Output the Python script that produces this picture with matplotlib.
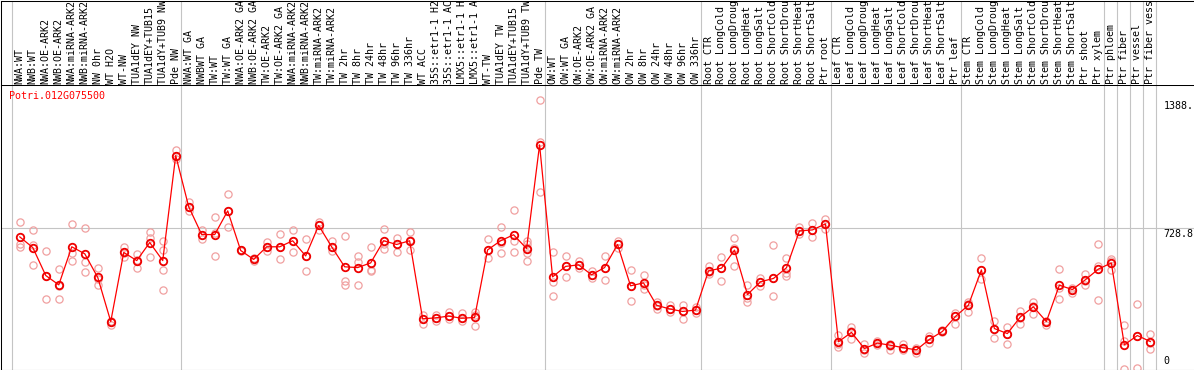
import matplotlib
matplotlib.use('Agg')
import matplotlib.pyplot as plt
import numpy as np

gene = 'Potri.012G075500'

samples = ['NWA:WT', 'NWB:WT', 'NWA:OE-ARK2', 'NWB:OE-ARK2', 'NWA:miRNA-ARK2', 'NWB:miRNA-ARK2',
           'NW 0hr', 'WT H2O', 'WT-NW', 'TUA1dEY NW', 'TUA1dEY+TUB15', 'TUA1dY+TUB9 NW', 'Pde NW',
           'NWA:WT GA', 'NWBWT GA', 'TW:WT', 'TW:WT GA', 'NWA:OE-ARK2 GA', 'NWB:OE-ARK2 GA',
           'TW:OE-ARK2', 'TW:OE-ARK2 GA', 'NWA:miRNA-ARK2', 'NWB:miRNA-ARK2', 'TW:miRNA-ARK2',
           'TW:miRNA-ARK2', 'TW 2hr', 'TW 8hr', 'TW 24hr', 'TW 48hr', 'TW 96hr', 'TW 336hr',
           'WT ACC', '35S::etr1-1 H2', '35S::etr1-1 AC', 'LMX5::etr1-1 H', 'LMX5::etr1-1 A',
           'WT-TW', 'TUA1dEY TW', 'TUA1dEY+TUB15', 'TUA1dY+TUB9 TW', 'Pde TW',
           'OW:WT', 'OW:WT GA', 'OW:OE-ARK2', 'OW:OE-ARK2 GA', 'OW:miRNA-ARK2', 'OW:miRNA-ARK2',
           'OW 2hr', 'OW 8hr', 'OW 24hr', 'OW 48hr', 'OW 96hr', 'OW 336hr',
           'Root CTR', 'Root LongCold', 'Root LongDroug', 'Root LongHeat', 'Root LongSalt',
           'Root ShortCold', 'Root ShortDrou', 'Root ShortHeat', 'Root ShortSalt', 'Ptr root',
           'Leaf CTR', 'Leaf LongCold', 'Leaf LongDroug', 'Leaf LongHeat', 'Leaf LongSalt',
           'Leaf ShortCold', 'Leaf ShortDrou', 'Leaf ShortHeat', 'Leaf ShortSalt', 'Ptr leaf',
           'Stem CTR', 'Stem LongCold', 'Stem LongDroug', 'Stem LongHeat', 'Stem LongSalt',
           'Stem ShortCold', 'Stem ShortDrou', 'Stem ShortHeat', 'Stem ShortSalt', 'Ptr shoot',
           'Ptr xylem', 'Ptr phloem', 'Ptr fiber', 'Ptr vessel', 'Ptr fiber vess']

means = [683, 628, 484, 436, 632, 596, 474, 247, 603, 561, 654, 561, 1102,
         838, 695, 695, 817, 613, 567, 632, 632, 663, 585, 742, 632, 529, 525, 549, 663, 644, 663,
         261, 266, 275, 264, 268, 616, 663, 694, 623, 1157,
         477, 531, 539, 488, 525, 644, 431, 446, 331, 312, 299, 306,
         508, 522, 615, 386, 452, 469, 524, 714, 719, 750,
         143, 191, 108, 136, 125, 112, 101, 155, 196, 273,
         331, 513, 211, 185, 271, 323, 247, 434, 412, 462, 517,
         549, 127, 175, 144]

replicates = [[762, 647, 630], [716, 639, 536], [608, 484, 361], [518, 429, 361], [747, 601, 558],
              [730, 555, 503], [522, 464, 433], [252, 246, 228], [630, 601, 579], [596, 563, 524],
              [706, 678, 577], [664, 618, 513, 407], [1130, 1102, 1082],
              [864, 838, 814], [716, 695, 673], [786, 704, 585], [905, 816, 735], [618, 613, 609],
              [572, 567, 561], [658, 632, 610], [700, 632, 567], [721, 663, 606], [670, 585, 508],
              [761, 742, 718], [661, 632, 610], [688, 455, 434], [585, 553, 436], [632, 515, 506],
              [725, 644, 622], [675, 644, 606], [706, 668, 615], [283, 261, 235], [283, 266, 249],
              [295, 275, 258], [290, 264, 249], [294, 283, 225], [670, 613, 575], [735, 651, 601],
              [819, 661, 606], [661, 647, 627, 601, 561], [1388, 1170, 912],
              [603, 450, 376], [585, 531, 477], [558, 539, 524], [506, 489, 472], [585, 525, 462],
              [661, 644, 627], [513, 431, 354], [488, 433, 417], [350, 326, 314], [331, 312, 295],
              [333, 299, 261], [321, 306, 290],
              [532, 501, 491], [577, 522, 457], [675, 627, 534], [433, 369, 349], [472, 452, 429],
              [642, 469, 378], [575, 498, 484], [735, 713, 699], [752, 719, 682], [776, 750, 726],
              [180, 129, 118], [220, 197, 158], [129, 103, 86], [146, 136, 125], [132, 120, 103],
              [129, 112, 98], [112, 98, 84], [172, 155, 134], [201, 196, 191], [292, 273, 232],
              [349, 338, 297], [572, 513, 464], [252, 211, 163], [220, 185, 132], [300, 266, 232],
              [349, 326, 287], [252, 246, 228], [520, 421, 364], [421, 412, 395], [493, 455, 433],
              [647, 531, 359],
              [568, 558, 513], [227, 149, 5], [338, 175, 9], [185, 137, 108]]

group_sizes = [13, 28, 12, 10, 10, 11, 1, 1, 1, 1]
ref_level = 728.8
value_labels = ['1388.', '728.8', '0']
value_label_pos = [1388, 728.8, 0]

W, H = 1194, 370
fig = plt.figure(figsize=(W / 100, H / 100), dpi=100)
plot_top = 85
ax = fig.add_axes([0.5 / W, 0.5 / H, 1 - 0.5 / W, (H - 0.5 - plot_top) / H])
ax_lab = fig.add_axes([0.5 / W, (H - plot_top) / H, 1 - 0.5 / W, (plot_top - 0.5) / H], sharex=ax)

x = np.arange(len(samples))
ax.set_xlim(-19.3 / 13, (W - 19.3) / 13)
ax.set_ylim(0, (H - 0.5 - plot_top) / 0.19415)

mono = 'DejaVu Sans Mono'
fs = 7.2

# group separators
bounds = np.concatenate([[0], np.cumsum(group_sizes)]) - 0.6
for b in bounds:
    ax.axvline(b, color='#c4c4c4', lw=0.8, zorder=1)
    ax_lab.axvline(b, color='#c4c4c4', lw=0.8, zorder=1)
ax.axhline(ref_level, color='#c4c4c4', lw=0.8, zorder=1)

# replicates
for i, reps in enumerate(replicates):
    ax.plot([i] * len(reps), reps, linestyle='none', marker='o', ms=5.2,
            mfc='none', mec='#f0a0a0', mew=0.9, zorder=2, clip_on=True)

ax.plot(x, means, color='#ff0000', lw=0.9, zorder=3)
ax.plot(x, means, linestyle='none', marker='o', ms=5.4, mfc='none',
        mec='#ee0000', mew=1.3, zorder=4)

for a in (ax, ax_lab):
    a.set_xticks([])
    a.set_yticks([])
    a.spines['right'].set_visible(False)
    for s in ('left', 'top', 'bottom'):
        a.spines[s].set_linewidth(0.75)
        a.spines[s].set_color('black')
ax_lab.spines['bottom'].set_visible(False)

for i, lbl in enumerate(samples):
    ax_lab.annotate(lbl, xy=(i, 0), xycoords=('data', 'axes fraction'),
                    xytext=(0, 1.5), textcoords='offset pixels',
                    rotation=90, ha='center', va='bottom',
                    family=mono, fontsize=fs, color='black', clip_on=True)

ax.annotate(gene, xy=(0, 1), xycoords='axes fraction', xytext=(8, -6),
            textcoords='offset pixels', ha='left', va='top',
            family=mono, fontsize=fs, color='#ff0000')

for lbl, v in zip(value_labels, value_label_pos):
    va = 'bottom' if v == 0 else 'top'
    dy = 3 if v == 0 else -1
    ax.annotate(lbl, xy=(len(samples), v), xycoords='data', xytext=(0, dy),
                textcoords='offset pixels', ha='left', va=va,
                family=mono, fontsize=fs, color='black', annotation_clip=False)

fig.savefig('out.png', dpi=100)
